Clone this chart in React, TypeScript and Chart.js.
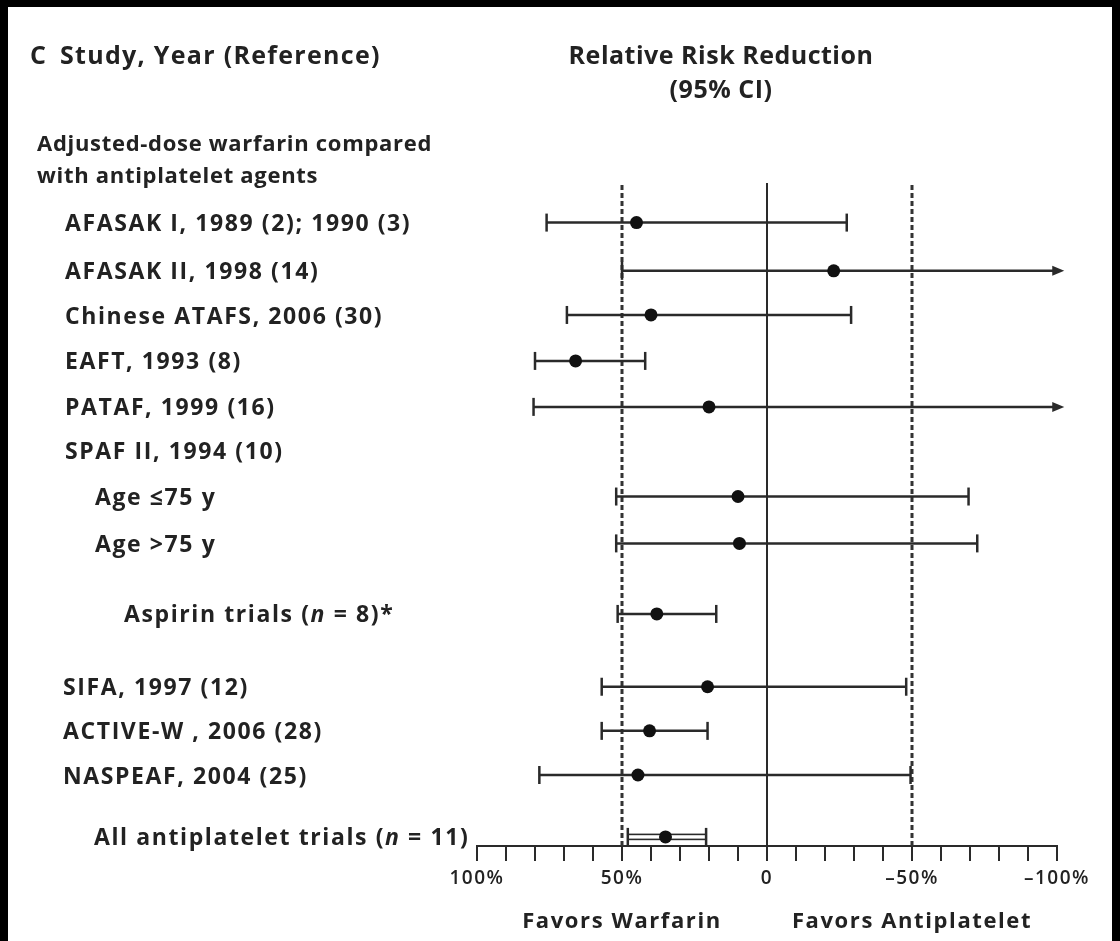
import React, { useEffect, useRef } from "react";
import { Chart, registerables } from "chart.js";

Chart.register(...registerables);

// ---------------- data ----------------
const studyLabels = [
  "AFASAK I, 1989 (2); 1990 (3)",
  "AFASAK II, 1998 (14)",
  "Chinese ATAFS, 2006 (30)",
  "EAFT, 1993 (8)",
  "PATAF, 1999 (16)",
  "SPAF II, 1994 (10)",
  "Age ≤75 y",
  "Age >75 y",
  "Aspirin trials (_n_ = 8)*",
  "SIFA, 1997 (12)",
  "ACTIVE-W , 2006 (28)",
  "NASPEAF, 2004 (25)",
  "All antiplatelet trials (_n_ = 11)",
];
// relative risk reduction (%), point estimate
const rrrEstimate = [45, -23, 40, 66, 20, null, 10, 9.5, 38, 20.5, 40.5, 44.5, 35];
// 95% CI bound favouring warfarin
const ciHigh = [76, 50, 69, 80, 80.5, null, 52, 52, 51.5, 57, 57, 78.5, 48];
// 95% CI bound favouring antiplatelet (below -100 = runs off the axis)
const ciLow = [-27.5, -150, -29, 42, -150, null, -69.5, -72.5, 17.5, -48, 20.5, -49.5, 21];

const tickValues = [100, 50, 0, -50, -100];
const tickLabels = ["100%", "50%", "0", "–50%", "–100%"];
const dashedRefs = [50, -50];

const headerLines = ["Adjusted-dose warfarin compared", "with antiplatelet agents"];
const titleLeft = "Study, Year (Reference)";
const panelLetter = "C";
const titleRight = ["Relative Risk Reduction", "(95% CI)"];
const favorLabels = ["Favors Warfarin", "Favors Antiplatelet"];
const favorAt = [50, -50];

// ---------------- layout ----------------
const W = 1120;
const H = 941;
const rowPos = [0.87, 1.93, 2.9, 3.91, 4.92, 5.87, 6.89, 7.92, 9.47, 11.07, 12.04, 13.01, 14.37];
const labelIndent = [65, 65, 65, 65, 65, 65, 95, 95, 124, 63, 63, 63, 94];
const INK = "#222";
const LINE = "#2a2a2a";
const FONT = "'Open Sans', 'DejaVu Sans', sans-serif";

function drawRich(ctx: CanvasRenderingContext2D, text: string, x: number, y: number, size: number) {
  const parts = text.split("_");
  let cx = x;
  parts.forEach((p, i) => {
    ctx.font = (i % 2 === 1 ? "italic " : "") + "700 " + size + "px " + FONT;
    ctx.fillText(p, cx, y);
    cx += ctx.measureText(p).width;
  });
}

const forestPlugin = {
  id: "forest",
  beforeDraw(chart: any) {
    const ctx = chart.ctx as CanvasRenderingContext2D;
    ctx.save();
    ctx.fillStyle = "#000";
    ctx.fillRect(0, 0, W, H);
    ctx.fillStyle = "#fff";
    ctx.fillRect(8, 7, W - 16, H - 7);
    ctx.restore();
    (ctx as any).letterSpacing = "1.5px";
  },
  beforeDatasetsDraw(chart: any) {
    const ctx = chart.ctx as CanvasRenderingContext2D;
    const xs = chart.scales.x;
    const ys = chart.scales.y;
    const area = chart.chartArea;
    ctx.save();
    // zero line
    ctx.strokeStyle = LINE;
    ctx.lineWidth = 2;
    const x0 = xs.getPixelForValue(0);
    ctx.beginPath();
    ctx.moveTo(x0, area.top);
    ctx.lineTo(x0, area.bottom);
    ctx.stroke();
    // dashed reference lines
    ctx.setLineDash([5, 3]);
    ctx.lineWidth = 3;
    ctx.strokeStyle = "#333";
    dashedRefs.forEach((v) => {
      const px = xs.getPixelForValue(v);
      ctx.beginPath();
      ctx.moveTo(px, area.top + 2);
      ctx.lineTo(px, area.bottom);
      ctx.stroke();
    });
    ctx.setLineDash([]);
    // confidence intervals
    ctx.strokeStyle = LINE;
    ctx.fillStyle = LINE;
    for (let i = 0; i < studyLabels.length; i++) {
      if (ciHigh[i] == null || ciLow[i] == null) continue;
      const y = ys.getPixelForValue(rowPos[i]);
      const xa = xs.getPixelForValue(ciHigh[i] as number);
      const offAxis = (ciLow[i] as number) < -100;
      const xb = offAxis ? xs.getPixelForValue(-102.5) : xs.getPixelForValue(ciLow[i] as number);
      ctx.lineWidth = 2.5;
      const summary = i === studyLabels.length - 1;
      if (summary) {
        ctx.lineWidth = 1.6;
        ctx.strokeRect(xa, y - 2.5, xb - xa, 5);
        ctx.lineWidth = 2.5;
      } else {
        ctx.beginPath();
        ctx.moveTo(xa, y);
        ctx.lineTo(offAxis ? xb - 10 : xb, y);
        ctx.stroke();
      }
      ctx.beginPath();
      ctx.moveTo(xa, y - 9);
      ctx.lineTo(xa, y + 9);
      ctx.stroke();
      if (offAxis) {
        ctx.beginPath();
        ctx.moveTo(xb, y);
        ctx.lineTo(xb - 12, y - 5);
        ctx.lineTo(xb - 12, y + 5);
        ctx.closePath();
        ctx.fill();
      } else {
        ctx.beginPath();
        ctx.moveTo(xb, y - 9);
        ctx.lineTo(xb, y + 9);
        ctx.stroke();
      }
    }
    ctx.restore();
  },
  afterDraw(chart: any) {
    const ctx = chart.ctx as CanvasRenderingContext2D;
    const xs = chart.scales.x;
    const ys = chart.scales.y;
    ctx.save();
    ctx.fillStyle = INK;
    ctx.textBaseline = "middle";
    // titles
    ctx.textAlign = "left";
    ctx.font = "700 25px " + FONT;
    (ctx as any).letterSpacing = "1.3px";
    ctx.fillText(panelLetter, 30, 57);
    ctx.fillText(titleLeft, 60, 57);
    ctx.textAlign = "center";
    (ctx as any).letterSpacing = "0.5px";
    const cx = 721;
    ctx.fillText(titleRight[0], cx, 57);
    ctx.fillText(titleRight[1], cx, 91);
    // group header
    ctx.textAlign = "left";
    (ctx as any).letterSpacing = "0.7px";
    ctx.font = "700 22px " + FONT;
    ctx.fillText(headerLines[0], 37, 145);
    ctx.fillText(headerLines[1], 37, 177);
    // study labels
    (ctx as any).letterSpacing = "1.6px";
    for (let i = 0; i < studyLabels.length; i++) {
      const y = ys.getPixelForValue(rowPos[i]) + 2;
      drawRich(ctx, studyLabels[i], labelIndent[i], y, 23);
    }
    // favors labels
    ctx.textAlign = "center";
    (ctx as any).letterSpacing = "1.6px";
    ctx.font = "700 22px " + FONT;
    favorLabels.forEach((t, k) => {
      ctx.fillText(t, xs.getPixelForValue(favorAt[k]), 922);
    });
    ctx.restore();
  },
};

export default function App() {
  const ref = useRef<HTMLCanvasElement | null>(null);
  useEffect(() => {
    const canvas = ref.current;
    if (!canvas) return;
    const points = rrrEstimate
      .map((v, i) => (v == null ? null : { x: v, y: rowPos[i] }))
      .filter((p) => p != null);
    const chart = new Chart(canvas, {
      type: "scatter",
      data: {
        datasets: [
          {
            data: points as any,
            pointRadius: 6.5,
            pointHoverRadius: 6.5,
            backgroundColor: "#111",
            borderWidth: 0,
            clip: false as any,
          },
        ],
      },
      options: {
        animation: false,
        responsive: false,
        events: [],
        layout: { padding: { left: 477, right: 63, top: 183, bottom: 55 } },
        plugins: { legend: { display: false }, tooltip: { enabled: false } },
        scales: {
          x: {
            type: "linear",
            min: -100,
            max: 100,
            reverse: true,
            position: "bottom",
            afterFit: (s: any) => {
              s.height = 40;
            },
            ticks: {
              stepSize: 10,
              autoSkip: false,
              maxRotation: 0,
              padding: 6,
              color: INK,
              font: { family: FONT, size: 19, weight: "600" as any },
              callback: (v: any) => {
                const k = tickValues.indexOf(Number(v));
                return k >= 0 ? tickLabels[k] : "";
              },
            },
            grid: {
              drawOnChartArea: false,
              drawTicks: true,
              tickLength: 15,
              color: LINE,
              lineWidth: 2,
            },
            border: { display: true, color: LINE, width: 2 },
          },
          y: { type: "linear", min: 0, max: 14.57, reverse: true, display: false },
        },
      },
      plugins: [forestPlugin],
    });
    if ((document as any).fonts && (document as any).fonts.ready) {
      (document as any).fonts.ready.then(() => {
        try { chart.update(); } catch (e) {}
      });
    }
    return () => chart.destroy();
  }, []);
  return (
    <canvas
      ref={ref}
      width={W}
      height={H}
      style={{ position: "absolute", left: 0, top: 0, width: W, height: H, display: "block" }}
    />
  );
}
